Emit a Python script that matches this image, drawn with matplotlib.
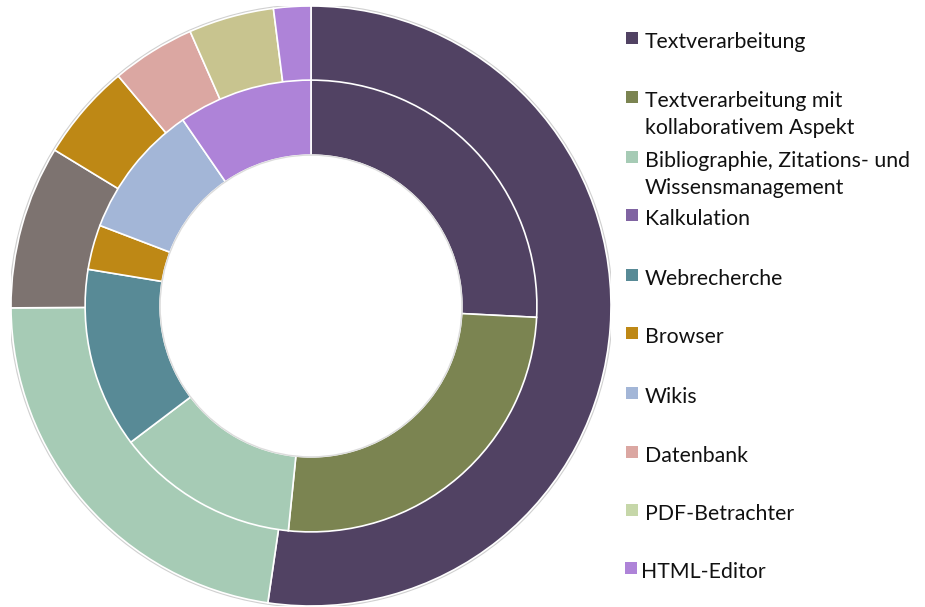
import matplotlib
matplotlib.use("Agg")
import matplotlib.pyplot as plt
from matplotlib.patches import Rectangle, Circle

categories = ["Textverarbeitung",
              "Textverarbeitung mit\nkollaborativem Aspekt",
              "Bibliographie, Zitations- und\nWissensmanagement",
              "Kalkulation", "Webrecherche", "Browser", "Wikis",
              "Datenbank", "PDF-Betrachter", "HTML-Editor"]
inner_values = [25.8, 25.8, 13.1, 0.0, 12.9, 3.2, 9.6, 0.0, 0.0, 9.6]
outer_values = [52.3, 0.0, 22.6, 8.8, 0.0, 5.2, 0.0, 4.5, 4.6, 2.0]

legend_colors = ["#514263", "#7b8451", "#a6cbb5", "#8064a2", "#588a96",
                 "#be8815", "#a3b6d7", "#dba7a2", "#c6d7a9", "#ae83d8"]
outer_colors = ["#514263", "#7b8451", "#a6cbb5", "#7d7370", "#588a96",
                "#be8815", "#a3b6d7", "#dba7a2", "#c8c48f", "#ae83d8"]

W, H = 925, 607
fig = plt.figure(figsize=(W / 100, H / 100), dpi=100)
ax = fig.add_axes([11 / W, 1 / H, 600 / W, 600 / H])

def ring(values, colors, radius):
    vals = [v for v in values if v > 0]
    cols = [c for v, c in zip(values, colors) if v > 0]
    ax.pie(vals, colors=cols, radius=radius, startangle=90, counterclock=False,
           wedgeprops=dict(width=0.25, edgecolor="white", linewidth=1.2))

# subtle shadow rims
ax.add_patch(Circle((0, 0), 1.003, facecolor="none", edgecolor="#d0d0d0", lw=1.5, zorder=0))
ring(outer_values, outer_colors, 1.0)
ring(inner_values, legend_colors, 0.753)
ax.add_patch(Circle((0, 0), 0.503, facecolor="none", edgecolor="#dcdcdc", lw=1.0, zorder=5))

ax.set_xlim(-1, 1)
ax.set_ylim(-1, 1)
ax.set_aspect("equal")
ax.axis("off")

# legend
family = "Lato"
r = fig.canvas.get_renderer()
t = fig.text(0, 0, "Textverarbeitung", fontsize=10, family=family)
w10 = t.get_window_extent(r).width
t.remove()
fs = 10 * 161 / w10

baselines = [48, 107, 167, 225, 285, 343, 403, 462, 520, 578]
for i, (lab, col) in enumerate(zip(categories, legend_colors)):
    b = baselines[i]
    sx = 626 if i < 9 else 625
    fig.patches.append(Rectangle((sx / W, 1 - (b - 4) / H), 12 / W, 12 / H,
                                 transform=fig.transFigure, facecolor=col,
                                 edgecolor="none"))
    tx = 645 if i < 9 else 641
    lines = lab.split("\n")
    for j, line in enumerate(lines):
        fig.text(tx / W, 1 - (b + 27 * j) / H, line, fontsize=fs, family=family,
                 va="baseline", ha="left", color="#111111")

fig.savefig("out.png", dpi=100)
